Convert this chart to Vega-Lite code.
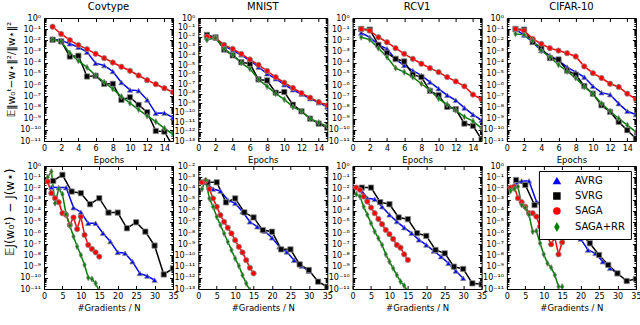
{
"$schema": "https://vega.github.io/schema/vega-lite/v6.json",
"padding": {"left": 3, "top": 1, "right": 0, "bottom": 0},
"bounds": "flush",
"columns": 4,
"spacing": {"row": 25, "column": 25.3},
"resolve": {"legend": {"color": "independent", "shape": "independent"}},
"datasets": {"d": [
{"p":"T1","m":"AVRG","x":1,"y":1.26e-2},{"p":"T1","m":"AVRG","x":2,"y":1e-2},{"p":"T1","m":"AVRG","x":3,"y":5e-3},{"p":"T1","m":"AVRG","x":4,"y":2.5e-3},{"p":"T1","m":"AVRG","x":5,"y":8.9e-4},{"p":"T1","m":"AVRG","x":6,"y":9.1e-5},{"p":"T1","m":"AVRG","x":7,"y":5.6e-5},{"p":"T1","m":"AVRG","x":8,"y":1.66e-5},{"p":"T1","m":"AVRG","x":9,"y":1.7e-6},{"p":"T1","m":"AVRG","x":10,"y":3.7e-7},{"p":"T1","m":"AVRG","x":11,"y":3.2e-7},{"p":"T1","m":"AVRG","x":12,"y":4.8e-8},{"p":"T1","m":"AVRG","x":13,"y":3.0e-9},{"p":"T1","m":"AVRG","x":14,"y":3.2e-9},{"p":"T1","m":"AVRG","x":15,"y":1.23e-9},
{"p":"T1","m":"SVRG","x":1,"y":1.15e-2},{"p":"T1","m":"SVRG","x":2,"y":8.1e-3},{"p":"T1","m":"SVRG","x":3,"y":3.6e-4},{"p":"T1","m":"SVRG","x":4,"y":4.2e-4},{"p":"T1","m":"SVRG","x":5,"y":5.9e-6},{"p":"T1","m":"SVRG","x":6,"y":6.8e-6},{"p":"T1","m":"SVRG","x":7,"y":1.29e-6},{"p":"T1","m":"SVRG","x":8,"y":1.29e-6},{"p":"T1","m":"SVRG","x":9,"y":4.8e-8},{"p":"T1","m":"SVRG","x":10,"y":8.1e-8},{"p":"T1","m":"SVRG","x":11,"y":1.7e-8},{"p":"T1","m":"SVRG","x":12,"y":3.7e-9},{"p":"T1","m":"SVRG","x":13,"y":7.9e-11},{"p":"T1","m":"SVRG","x":14,"y":6.9e-11},{"p":"T1","m":"SVRG","x":15,"y":3.2e-12},
{"p":"T1","m":"SAGA","x":1,"y":1.66e-1},{"p":"T1","m":"SAGA","x":2,"y":3.72e-2},{"p":"T1","m":"SAGA","x":3,"y":1.07e-2},{"p":"T1","m":"SAGA","x":4,"y":3.8e-3},{"p":"T1","m":"SAGA","x":5,"y":1.66e-3},{"p":"T1","m":"SAGA","x":6,"y":6.3e-4},{"p":"T1","m":"SAGA","x":7,"y":2.57e-4},{"p":"T1","m":"SAGA","x":8,"y":1.05e-4},{"p":"T1","m":"SAGA","x":9,"y":4.37e-5},{"p":"T1","m":"SAGA","x":10,"y":1.9e-5},{"p":"T1","m":"SAGA","x":11,"y":7.24e-6},{"p":"T1","m":"SAGA","x":12,"y":2.75e-6},{"p":"T1","m":"SAGA","x":13,"y":1.2e-6},{"p":"T1","m":"SAGA","x":14,"y":5.25e-7},{"p":"T1","m":"SAGA","x":15,"y":2.29e-7},
{"p":"T1","m":"SAGA+RR","x":1,"y":1.15e-2},{"p":"T1","m":"SAGA+RR","x":2,"y":8.1e-3},{"p":"T1","m":"SAGA+RR","x":3,"y":7.2e-4},{"p":"T1","m":"SAGA+RR","x":4,"y":1.48e-4},{"p":"T1","m":"SAGA+RR","x":5,"y":3.8e-5},{"p":"T1","m":"SAGA+RR","x":6,"y":7.2e-6},{"p":"T1","m":"SAGA+RR","x":7,"y":1.82e-6},{"p":"T1","m":"SAGA+RR","x":8,"y":4.6e-7},{"p":"T1","m":"SAGA+RR","x":9,"y":9.3e-8},{"p":"T1","m":"SAGA+RR","x":10,"y":2.4e-8},{"p":"T1","m":"SAGA+RR","x":11,"y":6.5e-9},{"p":"T1","m":"SAGA+RR","x":12,"y":1.74e-9},{"p":"T1","m":"SAGA+RR","x":13,"y":5.4e-10},{"p":"T1","m":"SAGA+RR","x":14,"y":1.35e-10},{"p":"T1","m":"SAGA+RR","x":15,"y":4e-11},

{"p":"T2","m":"AVRG","x":1,"y":9.1e-3},{"p":"T2","m":"AVRG","x":2,"y":7.9e-3},{"p":"T2","m":"AVRG","x":3,"y":1.23e-3},{"p":"T2","m":"AVRG","x":4,"y":3.6e-4},{"p":"T2","m":"AVRG","x":5,"y":1.29e-4},{"p":"T2","m":"AVRG","x":6,"y":3.2e-5},{"p":"T2","m":"AVRG","x":7,"y":6.5e-6},{"p":"T2","m":"AVRG","x":8,"y":1.29e-6},{"p":"T2","m":"AVRG","x":9,"y":3.8e-7},{"p":"T2","m":"AVRG","x":10,"y":8.9e-8},{"p":"T2","m":"AVRG","x":11,"y":2.6e-8},{"p":"T2","m":"AVRG","x":12,"y":9.1e-9},{"p":"T2","m":"AVRG","x":13,"y":3e-9},{"p":"T2","m":"AVRG","x":14,"y":1.12e-9},{"p":"T2","m":"AVRG","x":15,"y":4e-10},
{"p":"T2","m":"SVRG","x":1,"y":1.62e-2},{"p":"T2","m":"SVRG","x":2,"y":9.1e-3},{"p":"T2","m":"SVRG","x":3,"y":4.7e-4},{"p":"T2","m":"SVRG","x":4,"y":1.1e-4},{"p":"T2","m":"SVRG","x":5,"y":2.1e-5},{"p":"T2","m":"SVRG","x":6,"y":1.45e-5},{"p":"T2","m":"SVRG","x":7,"y":3.2e-7},{"p":"T2","m":"SVRG","x":8,"y":2.5e-7},{"p":"T2","m":"SVRG","x":9,"y":1.29e-8},{"p":"T2","m":"SVRG","x":10,"y":1.51e-8},{"p":"T2","m":"SVRG","x":11,"y":6.9e-10},{"p":"T2","m":"SVRG","x":12,"y":1.38e-10},{"p":"T2","m":"SVRG","x":13,"y":2.3e-11},{"p":"T2","m":"SVRG","x":14,"y":6.9e-12},{"p":"T2","m":"SVRG","x":15,"y":2.5e-12},
{"p":"T2","m":"SAGA","x":1,"y":1.1e-2},{"p":"T2","m":"SAGA","x":2,"y":7.9e-3},{"p":"T2","m":"SAGA","x":3,"y":1.45e-3},{"p":"T2","m":"SAGA","x":4,"y":5.5e-4},{"p":"T2","m":"SAGA","x":5,"y":1.62e-4},{"p":"T2","m":"SAGA","x":6,"y":4.1e-5},{"p":"T2","m":"SAGA","x":7,"y":1.12e-5},{"p":"T2","m":"SAGA","x":8,"y":2.5e-6},{"p":"T2","m":"SAGA","x":9,"y":5.6e-7},{"p":"T2","m":"SAGA","x":10,"y":1.45e-7},{"p":"T2","m":"SAGA","x":11,"y":4e-8},{"p":"T2","m":"SAGA","x":12,"y":1.17e-8},{"p":"T2","m":"SAGA","x":13,"y":3.8e-9},{"p":"T2","m":"SAGA","x":14,"y":1.32e-9},{"p":"T2","m":"SAGA","x":15,"y":5.9e-10},
{"p":"T2","m":"SAGA+RR","x":1,"y":4.8e-3},{"p":"T2","m":"SAGA+RR","x":2,"y":7.9e-3},{"p":"T2","m":"SAGA+RR","x":3,"y":5.5e-4},{"p":"T2","m":"SAGA+RR","x":4,"y":1.29e-4},{"p":"T2","m":"SAGA+RR","x":5,"y":1.82e-5},{"p":"T2","m":"SAGA+RR","x":6,"y":4.3e-6},{"p":"T2","m":"SAGA+RR","x":7,"y":3.2e-7},{"p":"T2","m":"SAGA+RR","x":8,"y":5.9e-8},{"p":"T2","m":"SAGA+RR","x":9,"y":1e-8},{"p":"T2","m":"SAGA+RR","x":10,"y":2.5e-9},{"p":"T2","m":"SAGA+RR","x":11,"y":4e-10},{"p":"T2","m":"SAGA+RR","x":12,"y":1.38e-10},{"p":"T2","m":"SAGA+RR","x":13,"y":2.3e-11},{"p":"T2","m":"SAGA+RR","x":14,"y":8.9e-12},{"p":"T2","m":"SAGA+RR","x":15,"y":3.5e-12},

{"p":"T3","m":"AVRG","x":1,"y":4.6e-2},{"p":"T3","m":"AVRG","x":2,"y":1.9e-2},{"p":"T3","m":"AVRG","x":3,"y":4e-3},{"p":"T3","m":"AVRG","x":4,"y":1.74e-3},{"p":"T3","m":"AVRG","x":5,"y":1.95e-4},{"p":"T3","m":"AVRG","x":6,"y":5.8e-5},{"p":"T3","m":"AVRG","x":7,"y":2e-5},{"p":"T3","m":"AVRG","x":8,"y":7.4e-6},{"p":"T3","m":"AVRG","x":9,"y":1.86e-6},{"p":"T3","m":"AVRG","x":10,"y":4.8e-7},{"p":"T3","m":"AVRG","x":11,"y":1.23e-7},{"p":"T3","m":"AVRG","x":12,"y":4.4e-8},{"p":"T3","m":"AVRG","x":13,"y":9.1e-9},{"p":"T3","m":"AVRG","x":14,"y":2.3e-9},{"p":"T3","m":"AVRG","x":15,"y":7.2e-10},
{"p":"T3","m":"SVRG","x":1,"y":1.05e-1},{"p":"T3","m":"SVRG","x":2,"y":9.1e-2},{"p":"T3","m":"SVRG","x":3,"y":4e-3},{"p":"T3","m":"SVRG","x":4,"y":7.6e-4},{"p":"T3","m":"SVRG","x":5,"y":2.24e-4},{"p":"T3","m":"SVRG","x":6,"y":1.29e-4},{"p":"T3","m":"SVRG","x":7,"y":8.5e-6},{"p":"T3","m":"SVRG","x":8,"y":5.2e-6},{"p":"T3","m":"SVRG","x":9,"y":3e-7},{"p":"T3","m":"SVRG","x":10,"y":1.23e-7},{"p":"T3","m":"SVRG","x":11,"y":1.12e-8},{"p":"T3","m":"SVRG","x":12,"y":6.9e-9},{"p":"T3","m":"SVRG","x":13,"y":3.6e-10},{"p":"T3","m":"SVRG","x":14,"y":2.3e-10},{"p":"T3","m":"SVRG","x":15,"y":1.38e-11},
{"p":"T3","m":"SAGA","x":1,"y":1.05e-1},{"p":"T3","m":"SAGA","x":2,"y":7.4e-2},{"p":"T3","m":"SAGA","x":3,"y":1.9e-2},{"p":"T3","m":"SAGA","x":4,"y":6.8e-3},{"p":"T3","m":"SAGA","x":5,"y":2e-3},{"p":"T3","m":"SAGA","x":6,"y":6.3e-4},{"p":"T3","m":"SAGA","x":7,"y":2.24e-4},{"p":"T3","m":"SAGA","x":8,"y":8.1e-5},{"p":"T3","m":"SAGA","x":9,"y":3.3e-5},{"p":"T3","m":"SAGA","x":10,"y":1.45e-5},{"p":"T3","m":"SAGA","x":11,"y":5.2e-6},{"p":"T3","m":"SAGA","x":12,"y":2.14e-6},{"p":"T3","m":"SAGA","x":13,"y":7.8e-7},{"p":"T3","m":"SAGA","x":14,"y":1.41e-7},{"p":"T3","m":"SAGA","x":15,"y":5.4e-8},
{"p":"T3","m":"SAGA+RR","x":1,"y":1.9e-2},{"p":"T3","m":"SAGA+RR","x":2,"y":1.17e-2},{"p":"T3","m":"SAGA+RR","x":3,"y":2e-3},{"p":"T3","m":"SAGA+RR","x":4,"y":3.2e-4},{"p":"T3","m":"SAGA+RR","x":5,"y":3.3e-5},{"p":"T3","m":"SAGA+RR","x":6,"y":1.45e-5},{"p":"T3","m":"SAGA+RR","x":7,"y":5.2e-6},{"p":"T3","m":"SAGA+RR","x":8,"y":1.32e-6},{"p":"T3","m":"SAGA+RR","x":9,"y":3.4e-7},{"p":"T3","m":"SAGA+RR","x":10,"y":6.2e-8},{"p":"T3","m":"SAGA+RR","x":11,"y":1.82e-8},{"p":"T3","m":"SAGA+RR","x":12,"y":5.6e-9},{"p":"T3","m":"SAGA+RR","x":13,"y":1.45e-9},{"p":"T3","m":"SAGA+RR","x":14,"y":5.9e-10},{"p":"T3","m":"SAGA+RR","x":15,"y":1.32e-10},

{"p":"T4","m":"AVRG","x":1,"y":9.1e-2},{"p":"T4","m":"AVRG","x":2,"y":3.1e-2},{"p":"T4","m":"AVRG","x":3,"y":6.8e-3},{"p":"T4","m":"AVRG","x":4,"y":1.23e-3},{"p":"T4","m":"AVRG","x":5,"y":4.5e-4},{"p":"T4","m":"AVRG","x":6,"y":1.58e-4},{"p":"T4","m":"AVRG","x":7,"y":4.1e-5},{"p":"T4","m":"AVRG","x":8,"y":1.45e-5},{"p":"T4","m":"AVRG","x":9,"y":5.2e-6},{"p":"T4","m":"AVRG","x":10,"y":7.8e-7},{"p":"T4","m":"AVRG","x":11,"y":2.1e-7},{"p":"T4","m":"AVRG","x":12,"y":1.41e-7},{"p":"T4","m":"AVRG","x":13,"y":2.2e-8},{"p":"T4","m":"AVRG","x":14,"y":4.6e-9},{"p":"T4","m":"AVRG","x":15,"y":2.3e-9},
{"p":"T4","m":"SVRG","x":1,"y":1.05e-1},{"p":"T4","m":"SVRG","x":2,"y":9.1e-2},{"p":"T4","m":"SVRG","x":3,"y":7.2e-3},{"p":"T4","m":"SVRG","x":4,"y":2e-3},{"p":"T4","m":"SVRG","x":5,"y":2.6e-4},{"p":"T4","m":"SVRG","x":6,"y":1.95e-4},{"p":"T4","m":"SVRG","x":7,"y":2e-5},{"p":"T4","m":"SVRG","x":8,"y":8.5e-6},{"p":"T4","m":"SVRG","x":9,"y":8.3e-7},{"p":"T4","m":"SVRG","x":10,"y":1.7e-7},{"p":"T4","m":"SVRG","x":11,"y":1.58e-8},{"p":"T4","m":"SVRG","x":12,"y":4e-9},{"p":"T4","m":"SVRG","x":13,"y":5.1e-10},{"p":"T4","m":"SVRG","x":14,"y":9.3e-11},{"p":"T4","m":"SVRG","x":15,"y":1.7e-11},
{"p":"T4","m":"SAGA","x":1,"y":1.05e-1},{"p":"T4","m":"SAGA","x":2,"y":7.4e-2},{"p":"T4","m":"SAGA","x":3,"y":1.35e-2},{"p":"T4","m":"SAGA","x":4,"y":4.9e-3},{"p":"T4","m":"SAGA","x":5,"y":2e-3},{"p":"T4","m":"SAGA","x":6,"y":1.23e-3},{"p":"T4","m":"SAGA","x":7,"y":7.1e-4},{"p":"T4","m":"SAGA","x":8,"y":3.6e-4},{"p":"T4","m":"SAGA","x":9,"y":4.7e-5},{"p":"T4","m":"SAGA","x":10,"y":1.17e-5},{"p":"T4","m":"SAGA","x":11,"y":4.3e-6},{"p":"T4","m":"SAGA","x":12,"y":1.32e-6},{"p":"T4","m":"SAGA","x":13,"y":6.8e-7},{"p":"T4","m":"SAGA","x":14,"y":1.7e-7},{"p":"T4","m":"SAGA","x":15,"y":5.4e-8},
{"p":"T4","m":"SAGA+RR","x":1,"y":3.8e-2},{"p":"T4","m":"SAGA+RR","x":2,"y":3.1e-2},{"p":"T4","m":"SAGA+RR","x":3,"y":9.5e-3},{"p":"T4","m":"SAGA+RR","x":4,"y":1.23e-3},{"p":"T4","m":"SAGA+RR","x":5,"y":3.2e-4},{"p":"T4","m":"SAGA+RR","x":6,"y":6.6e-5},{"p":"T4","m":"SAGA+RR","x":7,"y":1.66e-5},{"p":"T4","m":"SAGA+RR","x":8,"y":4.3e-6},{"p":"T4","m":"SAGA+RR","x":9,"y":6.8e-7},{"p":"T4","m":"SAGA+RR","x":10,"y":1.7e-7},{"p":"T4","m":"SAGA+RR","x":11,"y":2.2e-8},{"p":"T4","m":"SAGA+RR","x":12,"y":4.6e-9},{"p":"T4","m":"SAGA+RR","x":13,"y":1.02e-9},{"p":"T4","m":"SAGA+RR","x":14,"y":2.6e-10},{"p":"T4","m":"SAGA+RR","x":15,"y":6.6e-11},

{"p":"B1","m":"AVRG","x":2,"y":1.26e-2},{"p":"B1","m":"AVRG","x":4,"y":1.17e-2},{"p":"B1","m":"AVRG","x":6,"y":1.17e-2},{"p":"B1","m":"AVRG","x":8,"y":1.9e-4},{"p":"B1","m":"AVRG","x":10,"y":7.4e-5},{"p":"B1","m":"AVRG","x":12,"y":7.6e-6},{"p":"B1","m":"AVRG","x":14,"y":7.6e-6},{"p":"B1","m":"AVRG","x":16,"y":9.8e-7},{"p":"B1","m":"AVRG","x":18,"y":1.74e-7},{"p":"B1","m":"AVRG","x":20,"y":1.9e-8},{"p":"B1","m":"AVRG","x":22,"y":1.55e-8},{"p":"B1","m":"AVRG","x":24,"y":2.8e-9},{"p":"B1","m":"AVRG","x":26,"y":2.5e-10},{"p":"B1","m":"AVRG","x":28,"y":1.45e-10},{"p":"B1","m":"AVRG","x":30,"y":6.3e-11},
{"p":"B1","m":"SVRG","x":2.5,"y":4.7e-2},{"p":"B1","m":"SVRG","x":5,"y":1.62e-1},{"p":"B1","m":"SVRG","x":7.5,"y":5.2e-3},{"p":"B1","m":"SVRG","x":10,"y":3.7e-3},{"p":"B1","m":"SVRG","x":12.5,"y":3.8e-4},{"p":"B1","m":"SVRG","x":15,"y":1.32e-3},{"p":"B1","m":"SVRG","x":17.5,"y":6.8e-5},{"p":"B1","m":"SVRG","x":20,"y":6.8e-5},{"p":"B1","m":"SVRG","x":22.5,"y":2.7e-6},{"p":"B1","m":"SVRG","x":25,"y":9.3e-6},{"p":"B1","m":"SVRG","x":27.5,"y":1.35e-6},{"p":"B1","m":"SVRG","x":30,"y":7.6e-8},{"p":"B1","m":"SVRG","x":32.5,"y":2e-10},{"p":"B1","m":"SVRG","x":35,"y":7.1e-10},
{"p":"B1","m":"SAGA","x":1,"y":4.1e-2},{"p":"B1","m":"SAGA","x":2,"y":3.7e-3},{"p":"B1","m":"SAGA","x":3,"y":1.32e-3},{"p":"B1","m":"SAGA","x":4,"y":5.8e-4},{"p":"B1","m":"SAGA","x":5,"y":6e-5},{"p":"B1","m":"SAGA","x":6,"y":4.3e-5},{"p":"B1","m":"SAGA","x":7,"y":5.4e-6},{"p":"B1","m":"SAGA","x":8,"y":2.5e-5},{"p":"B1","m":"SAGA","x":9,"y":2.3e-6},{"p":"B1","m":"SAGA","x":10,"y":3e-5},{"p":"B1","m":"SAGA","x":11,"y":6.9e-7},{"p":"B1","m":"SAGA","x":12,"y":8.7e-8},{"p":"B1","m":"SAGA","x":13,"y":3.8e-8},{"p":"B1","m":"SAGA","x":14,"y":1.9e-8},{"p":"B1","m":"SAGA","x":15,"y":7.9e-9},
{"p":"B1","m":"SAGA+RR","x":1,"y":1e-1},{"p":"B1","m":"SAGA+RR","x":2,"y":3.2e-1},{"p":"B1","m":"SAGA+RR","x":3,"y":4.7e-4},{"p":"B1","m":"SAGA+RR","x":4,"y":9.1e-3},{"p":"B1","m":"SAGA+RR","x":5,"y":3e-3},{"p":"B1","m":"SAGA+RR","x":6,"y":4.9e-5},{"p":"B1","m":"SAGA+RR","x":7,"y":4.7e-6},{"p":"B1","m":"SAGA+RR","x":8,"y":4.9e-7},{"p":"B1","m":"SAGA+RR","x":9,"y":6.2e-8},{"p":"B1","m":"SAGA+RR","x":10,"y":1.1e-8},{"p":"B1","m":"SAGA+RR","x":11,"y":1.41e-9},{"p":"B1","m":"SAGA+RR","x":12,"y":1.02e-10},{"p":"B1","m":"SAGA+RR","x":13,"y":7.9e-11},{"p":"B1","m":"SAGA+RR","x":14,"y":3.2e-11},{"p":"B1","m":"SAGA+RR","x":15,"y":6.6e-12},

{"p":"B2","m":"AVRG","x":2,"y":3.5e-4},{"p":"B2","m":"AVRG","x":4,"y":8.7e-5},{"p":"B2","m":"AVRG","x":6,"y":5.8e-5},{"p":"B2","m":"AVRG","x":8,"y":9.1e-6},{"p":"B2","m":"AVRG","x":10,"y":4.6e-6},{"p":"B2","m":"AVRG","x":12,"y":8.1e-7},{"p":"B2","m":"AVRG","x":14,"y":1.02e-7},{"p":"B2","m":"AVRG","x":16,"y":3.7e-8},{"p":"B2","m":"AVRG","x":18,"y":1.51e-8},{"p":"B2","m":"AVRG","x":20,"y":3.8e-9},{"p":"B2","m":"AVRG","x":22,"y":6e-10},{"p":"B2","m":"AVRG","x":24,"y":2.1e-10},{"p":"B2","m":"AVRG","x":26,"y":3.8e-11},{"p":"B2","m":"AVRG","x":28,"y":1.17e-11},{"p":"B2","m":"AVRG","x":30,"y":4e-12},
{"p":"B2","m":"SVRG","x":2.5,"y":3.5e-4},{"p":"B2","m":"SVRG","x":5,"y":3.5e-4},{"p":"B2","m":"SVRG","x":7.5,"y":5.6e-6},{"p":"B2","m":"SVRG","x":10,"y":1.26e-5},{"p":"B2","m":"SVRG","x":12.5,"y":7.1e-7},{"p":"B2","m":"SVRG","x":15,"y":2.5e-7},{"p":"B2","m":"SVRG","x":17.5,"y":1.86e-8},{"p":"B2","m":"SVRG","x":20,"y":1.32e-8},{"p":"B2","m":"SVRG","x":22.5,"y":3.5e-10},{"p":"B2","m":"SVRG","x":25,"y":3.5e-10},{"p":"B2","m":"SVRG","x":27.5,"y":1.58e-11},{"p":"B2","m":"SVRG","x":30,"y":5e-12},{"p":"B2","m":"SVRG","x":32.5,"y":4.5e-13},{"p":"B2","m":"SVRG","x":35,"y":1.6e-13},
{"p":"B2","m":"SAGA","x":1,"y":3.5e-4},{"p":"B2","m":"SAGA","x":2,"y":4.6e-4},{"p":"B2","m":"SAGA","x":3,"y":8.7e-5},{"p":"B2","m":"SAGA","x":4,"y":1.26e-5},{"p":"B2","m":"SAGA","x":5,"y":2.3e-6},{"p":"B2","m":"SAGA","x":6,"y":4.1e-7},{"p":"B2","m":"SAGA","x":7,"y":1.02e-7},{"p":"B2","m":"SAGA","x":8,"y":3e-8},{"p":"B2","m":"SAGA","x":9,"y":9.3e-9},{"p":"B2","m":"SAGA","x":10,"y":2.3e-9},{"p":"B2","m":"SAGA","x":11,"y":6e-10},{"p":"B2","m":"SAGA","x":12,"y":1.86e-10},{"p":"B2","m":"SAGA","x":13,"y":3.8e-11},{"p":"B2","m":"SAGA","x":14,"y":7.9e-12},{"p":"B2","m":"SAGA","x":15,"y":2.5e-12},
{"p":"B2","m":"SAGA+RR","x":1,"y":8.7e-5},{"p":"B2","m":"SAGA+RR","x":2,"y":5.6e-4},{"p":"B2","m":"SAGA+RR","x":3,"y":1.26e-5},{"p":"B2","m":"SAGA+RR","x":4,"y":2.3e-6},{"p":"B2","m":"SAGA+RR","x":5,"y":2.9e-7},{"p":"B2","m":"SAGA+RR","x":6,"y":5.2e-8},{"p":"B2","m":"SAGA+RR","x":7,"y":9.3e-9},{"p":"B2","m":"SAGA+RR","x":8,"y":1.66e-9},{"p":"B2","m":"SAGA+RR","x":9,"y":3e-10},{"p":"B2","m":"SAGA+RR","x":10,"y":5.4e-11},{"p":"B2","m":"SAGA+RR","x":11,"y":1.17e-11},{"p":"B2","m":"SAGA+RR","x":12,"y":1.74e-12},{"p":"B2","m":"SAGA+RR","x":13,"y":3.2e-13},{"p":"B2","m":"SAGA+RR","x":14,"y":7.9e-14},

{"p":"B3","m":"AVRG","x":2,"y":1.02e-2},{"p":"B3","m":"AVRG","x":4,"y":1.32e-3},{"p":"B3","m":"AVRG","x":6,"y":1.07e-3},{"p":"B3","m":"AVRG","x":8,"y":2.3e-4},{"p":"B3","m":"AVRG","x":10,"y":4.3e-5},{"p":"B3","m":"AVRG","x":12,"y":1.07e-5},{"p":"B3","m":"AVRG","x":14,"y":3.1e-6},{"p":"B3","m":"AVRG","x":16,"y":9.8e-7},{"p":"B3","m":"AVRG","x":18,"y":2.5e-7},{"p":"B3","m":"AVRG","x":20,"y":8.7e-8},{"p":"B3","m":"AVRG","x":22,"y":2.5e-8},{"p":"B3","m":"AVRG","x":24,"y":7.9e-9},{"p":"B3","m":"AVRG","x":26,"y":2e-9},{"p":"B3","m":"AVRG","x":28,"y":4.1e-10},{"p":"B3","m":"AVRG","x":30,"y":9.1e-11},
{"p":"B3","m":"SVRG","x":2.5,"y":1.17e-2},{"p":"B3","m":"SVRG","x":5,"y":1.17e-2},{"p":"B3","m":"SVRG","x":7.5,"y":5.8e-4},{"p":"B3","m":"SVRG","x":10,"y":3.8e-4},{"p":"B3","m":"SVRG","x":12.5,"y":2.5e-5},{"p":"B3","m":"SVRG","x":15,"y":1.74e-5},{"p":"B3","m":"SVRG","x":17.5,"y":9.8e-7},{"p":"B3","m":"SVRG","x":20,"y":5.6e-7},{"p":"B3","m":"SVRG","x":22.5,"y":3.1e-8},{"p":"B3","m":"SVRG","x":25,"y":1.55e-8},{"p":"B3","m":"SVRG","x":27.5,"y":1e-9},{"p":"B3","m":"SVRG","x":30,"y":6.2e-10},{"p":"B3","m":"SVRG","x":32.5,"y":3.2e-11},{"p":"B3","m":"SVRG","x":35,"y":2.6e-11},
{"p":"B3","m":"SAGA","x":1,"y":1.17e-2},{"p":"B3","m":"SAGA","x":2,"y":7.4e-3},{"p":"B3","m":"SAGA","x":3,"y":1.86e-3},{"p":"B3","m":"SAGA","x":4,"y":6.6e-4},{"p":"B3","m":"SAGA","x":5,"y":1.9e-4},{"p":"B3","m":"SAGA","x":6,"y":6e-5},{"p":"B3","m":"SAGA","x":7,"y":1.86e-5},{"p":"B3","m":"SAGA","x":8,"y":6.2e-6},{"p":"B3","m":"SAGA","x":9,"y":1.9e-6},{"p":"B3","m":"SAGA","x":10,"y":7.9e-7},{"p":"B3","m":"SAGA","x":11,"y":3e-7},{"p":"B3","m":"SAGA","x":12,"y":8.7e-8},{"p":"B3","m":"SAGA","x":13,"y":5e-8},{"p":"B3","m":"SAGA","x":14,"y":1.26e-8},{"p":"B3","m":"SAGA","x":15,"y":4e-9},
{"p":"B3","m":"SAGA+RR","x":1,"y":3e-3},{"p":"B3","m":"SAGA+RR","x":2,"y":1.86e-3},{"p":"B3","m":"SAGA+RR","x":3,"y":2.3e-4},{"p":"B3","m":"SAGA+RR","x":4,"y":4.3e-5},{"p":"B3","m":"SAGA+RR","x":5,"y":7.6e-6},{"p":"B3","m":"SAGA+RR","x":6,"y":1.35e-6},{"p":"B3","m":"SAGA+RR","x":7,"y":3.5e-7},{"p":"B3","m":"SAGA+RR","x":8,"y":8.7e-8},{"p":"B3","m":"SAGA+RR","x":9,"y":1.26e-8},{"p":"B3","m":"SAGA+RR","x":10,"y":2.8e-9},{"p":"B3","m":"SAGA+RR","x":11,"y":7.1e-10},{"p":"B3","m":"SAGA+RR","x":12,"y":1.78e-10},{"p":"B3","m":"SAGA+RR","x":13,"y":4.6e-11},{"p":"B3","m":"SAGA+RR","x":14,"y":2e-11},{"p":"B3","m":"SAGA+RR","x":15,"y":5.8e-12},

{"p":"B4","m":"AVRG","x":2,"y":2e-2},{"p":"B4","m":"AVRG","x":4,"y":4.6e-2},{"p":"B4","m":"AVRG","x":6,"y":4.6e-2},{"p":"B4","m":"AVRG","x":8,"y":6.6e-4},{"p":"B4","m":"AVRG","x":10,"y":1.66e-4},{"p":"B4","m":"AVRG","x":12,"y":6e-5},{"p":"B4","m":"AVRG","x":14,"y":2.1e-5},{"p":"B4","m":"AVRG","x":16,"y":5.4e-6},{"p":"B4","m":"AVRG","x":18,"y":1.55e-6},{"p":"B4","m":"AVRG","x":20,"y":3e-7},{"p":"B4","m":"AVRG","x":22,"y":3.1e-8},{"p":"B4","m":"AVRG","x":24,"y":1.55e-8},{"p":"B4","m":"AVRG","x":26,"y":2.8e-9},{"p":"B4","m":"AVRG","x":28,"y":7.1e-10},{"p":"B4","m":"AVRG","x":30,"y":2.5e-10},
{"p":"B4","m":"SVRG","x":2.5,"y":5.6e-2},{"p":"B4","m":"SVRG","x":5,"y":2e-2},{"p":"B4","m":"SVRG","x":7.5,"y":3.2e-4},{"p":"B4","m":"SVRG","x":10,"y":1e-3},{"p":"B4","m":"SVRG","x":12.5,"y":1.66e-4},{"p":"B4","m":"SVRG","x":15,"y":2.1e-5},{"p":"B4","m":"SVRG","x":17.5,"y":3.8e-6},{"p":"B4","m":"SVRG","x":20,"y":9.8e-7},{"p":"B4","m":"SVRG","x":22.5,"y":1.23e-7},{"p":"B4","m":"SVRG","x":25,"y":1.1e-8},{"p":"B4","m":"SVRG","x":27.5,"y":1.41e-9},{"p":"B4","m":"SVRG","x":30,"y":2.5e-10},{"p":"B4","m":"SVRG","x":32.5,"y":5.2e-11},{"p":"B4","m":"SVRG","x":35,"y":7.9e-11},
{"p":"B4","m":"SAGA","x":1,"y":1.17e-2},{"p":"B4","m":"SAGA","x":2,"y":1.45e-2},{"p":"B4","m":"SAGA","x":3,"y":1.32e-3},{"p":"B4","m":"SAGA","x":4,"y":5.8e-4},{"p":"B4","m":"SAGA","x":5,"y":2.3e-4},{"p":"B4","m":"SAGA","x":6,"y":6e-5},{"p":"B4","m":"SAGA","x":7,"y":6e-5},{"p":"B4","m":"SAGA","x":8,"y":3e-5},{"p":"B4","m":"SAGA","x":9,"y":3.8e-6},{"p":"B4","m":"SAGA","x":10,"y":9.8e-7},{"p":"B4","m":"SAGA","x":11,"y":4.9e-7},{"p":"B4","m":"SAGA","x":12,"y":1e-7},{"p":"B4","m":"SAGA","x":13,"y":4e-7},{"p":"B4","m":"SAGA","x":14,"y":1.26e-8},{"p":"B4","m":"SAGA","x":15,"y":1.51e-7},
{"p":"B4","m":"SAGA+RR","x":1,"y":6e-3},{"p":"B4","m":"SAGA+RR","x":2,"y":9.1e-3},{"p":"B4","m":"SAGA+RR","x":3,"y":1.45e-2},{"p":"B4","m":"SAGA+RR","x":4,"y":3.3e-4},{"p":"B4","m":"SAGA+RR","x":5,"y":1.9e-4},{"p":"B4","m":"SAGA+RR","x":6,"y":4.3e-5},{"p":"B4","m":"SAGA+RR","x":7,"y":1.35e-6},{"p":"B4","m":"SAGA+RR","x":8,"y":1.55e-6},{"p":"B4","m":"SAGA+RR","x":9,"y":1.23e-7},{"p":"B4","m":"SAGA+RR","x":10,"y":1.26e-8},{"p":"B4","m":"SAGA+RR","x":11,"y":2e-9},{"p":"B4","m":"SAGA+RR","x":12,"y":8.1e-10},{"p":"B4","m":"SAGA+RR","x":13,"y":1.78e-10},{"p":"B4","m":"SAGA+RR","x":14,"y":1.62e-11},{"p":"B4","m":"SAGA+RR","x":15,"y":1.62e-11}
]},
"concat": [
{"title": "Covtype", "width": 129, "height": 123, "data": {"name": "d"}, "transform": [{"filter": "datum.p == 'T1'"}],
 "encoding": {
  "x": {"field": "x", "type": "quantitative", "scale": {"domain": [0, 15], "nice": false}, "axis": {"orient": "bottom", "values": [0,2,4,6,8,10,12,14], "title": "Epochs"}},
  "y": {"field": "y", "type": "quantitative", "scale": {"type": "log", "domain": [1e-11, 1], "nice": false}, "axis": {"orient": "left", "tickCount": 40, "title": "𝔼‖w₀ᵗ−w⋆‖²/‖w⋆‖²", "titleFontSize": 10.5, "titleY": 51, "tickSize": {"condition": {"test": "abs(log(datum.value)/LN10 - round(log(datum.value)/LN10)) > 0.01", "value": -2}, "value": -3.5}, "labelExpr": "abs(log(datum.value)/LN10 - round(log(datum.value)/LN10)) > 0.01 ? '' : '10' + (datum.value < 0.5 ? '⁻' : '') + (datum.value < 5e-10 ? '¹' : '') + substring('⁰¹²³⁴⁵⁶⁷⁸⁹', abs(round(log(datum.value) / LN10)) % 10, abs(round(log(datum.value) / LN10)) % 10 + 1)"}},
  "color": {"field": "m", "type": "nominal", "scale": {"domain": ["AVRG","SVRG","SAGA","SAGA+RR"], "range": ["#0000ff","#000000","#ff0000","#008000"]}, "legend": null}
 },
 "layer": [
  {"mark": {"type": "line", "strokeWidth": 1.5, "clip": true}},
  {"mark": {"type": "point", "filled": true, "size": 28, "stroke": "#888888", "strokeWidth": 0.8, "opacity": 1, "clip": true}, "encoding": {
    "shape": {"field": "m", "type": "nominal", "scale": {"domain": ["AVRG","SVRG","SAGA","SAGA+RR"], "range": ["triangle-up","square","circle","M0,-1.15L0.65,0L0,1.15L-0.65,0Z"]}, "legend": null},
    "x": {"field": "x", "type": "quantitative", "scale": {"domain": [0, 15], "nice": false}, "axis": {"orient": "top", "labels": false, "title": null, "values": [0,2,4,6,8,10,12,14]}},
    "y": {"field": "y", "type": "quantitative", "scale": {"type": "log", "domain": [1e-11, 1], "nice": false}, "axis": {"orient": "right", "labels": false, "title": null, "tickCount": 40, "tickSize": {"condition": {"test": "abs(log(datum.value)/LN10 - round(log(datum.value)/LN10)) > 0.01", "value": -2}, "value": -3.5}}}}}
 ]},
{"title": "MNIST", "width": 129, "height": 123, "data": {"name": "d"}, "transform": [{"filter": "datum.p == 'T2'"}],
 "encoding": {
  "x": {"field": "x", "type": "quantitative", "scale": {"domain": [0, 15], "nice": false}, "axis": {"orient": "bottom", "values": [0,2,4,6,8,10,12,14], "title": "Epochs"}},
  "y": {"field": "y", "type": "quantitative", "scale": {"type": "log", "domain": [1e-13, 1], "nice": false}, "axis": {"orient": "left", "tickCount": 40, "title": null, "tickSize": {"condition": {"test": "abs(log(datum.value)/LN10 - round(log(datum.value)/LN10)) > 0.01", "value": -2}, "value": -3.5}, "labelExpr": "abs(log(datum.value)/LN10 - round(log(datum.value)/LN10)) > 0.01 ? '' : '10' + (datum.value < 0.5 ? '⁻' : '') + (datum.value < 5e-10 ? '¹' : '') + substring('⁰¹²³⁴⁵⁶⁷⁸⁹', abs(round(log(datum.value) / LN10)) % 10, abs(round(log(datum.value) / LN10)) % 10 + 1)"}},
  "color": {"field": "m", "type": "nominal", "scale": {"domain": ["AVRG","SVRG","SAGA","SAGA+RR"], "range": ["#0000ff","#000000","#ff0000","#008000"]}, "legend": null}
 },
 "layer": [
  {"mark": {"type": "line", "strokeWidth": 1.5, "clip": true}},
  {"mark": {"type": "point", "filled": true, "size": 28, "stroke": "#888888", "strokeWidth": 0.8, "opacity": 1, "clip": true}, "encoding": {
    "shape": {"field": "m", "type": "nominal", "scale": {"domain": ["AVRG","SVRG","SAGA","SAGA+RR"], "range": ["triangle-up","square","circle","M0,-1.15L0.65,0L0,1.15L-0.65,0Z"]}, "legend": null},
    "x": {"field": "x", "type": "quantitative", "scale": {"domain": [0, 15], "nice": false}, "axis": {"orient": "top", "labels": false, "title": null, "values": [0,2,4,6,8,10,12,14]}},
    "y": {"field": "y", "type": "quantitative", "scale": {"type": "log", "domain": [1e-13, 1], "nice": false}, "axis": {"orient": "right", "labels": false, "title": null, "tickCount": 40, "tickSize": {"condition": {"test": "abs(log(datum.value)/LN10 - round(log(datum.value)/LN10)) > 0.01", "value": -2}, "value": -3.5}}}}}
 ]},
{"title": "RCV1", "width": 129, "height": 123, "data": {"name": "d"}, "transform": [{"filter": "datum.p == 'T3'"}],
 "encoding": {
  "x": {"field": "x", "type": "quantitative", "scale": {"domain": [0, 15], "nice": false}, "axis": {"orient": "bottom", "values": [0,2,4,6,8,10,12,14], "title": "Epochs"}},
  "y": {"field": "y", "type": "quantitative", "scale": {"type": "log", "domain": [1e-11, 1], "nice": false}, "axis": {"orient": "left", "tickCount": 40, "title": null, "tickSize": {"condition": {"test": "abs(log(datum.value)/LN10 - round(log(datum.value)/LN10)) > 0.01", "value": -2}, "value": -3.5}, "labelExpr": "abs(log(datum.value)/LN10 - round(log(datum.value)/LN10)) > 0.01 ? '' : '10' + (datum.value < 0.5 ? '⁻' : '') + (datum.value < 5e-10 ? '¹' : '') + substring('⁰¹²³⁴⁵⁶⁷⁸⁹', abs(round(log(datum.value) / LN10)) % 10, abs(round(log(datum.value) / LN10)) % 10 + 1)"}},
  "color": {"field": "m", "type": "nominal", "scale": {"domain": ["AVRG","SVRG","SAGA","SAGA+RR"], "range": ["#0000ff","#000000","#ff0000","#008000"]}, "legend": null}
 },
 "layer": [
  {"mark": {"type": "line", "strokeWidth": 1.5, "clip": true}},
  {"mark": {"type": "point", "filled": true, "size": 28, "stroke": "#888888", "strokeWidth": 0.8, "opacity": 1, "clip": true}, "encoding": {
    "shape": {"field": "m", "type": "nominal", "scale": {"domain": ["AVRG","SVRG","SAGA","SAGA+RR"], "range": ["triangle-up","square","circle","M0,-1.15L0.65,0L0,1.15L-0.65,0Z"]}, "legend": null},
    "x": {"field": "x", "type": "quantitative", "scale": {"domain": [0, 15], "nice": false}, "axis": {"orient": "top", "labels": false, "title": null, "values": [0,2,4,6,8,10,12,14]}},
    "y": {"field": "y", "type": "quantitative", "scale": {"type": "log", "domain": [1e-11, 1], "nice": false}, "axis": {"orient": "right", "labels": false, "title": null, "tickCount": 40, "tickSize": {"condition": {"test": "abs(log(datum.value)/LN10 - round(log(datum.value)/LN10)) > 0.01", "value": -2}, "value": -3.5}}}}}
 ]},
{"title": "CIFAR-10", "width": 129, "height": 123, "data": {"name": "d"}, "transform": [{"filter": "datum.p == 'T4'"}],
 "encoding": {
  "x": {"field": "x", "type": "quantitative", "scale": {"domain": [0, 15], "nice": false}, "axis": {"orient": "bottom", "values": [0,2,4,6,8,10,12,14], "title": "Epochs"}},
  "y": {"field": "y", "type": "quantitative", "scale": {"type": "log", "domain": [1e-11, 1], "nice": false}, "axis": {"orient": "left", "tickCount": 40, "title": null, "tickSize": {"condition": {"test": "abs(log(datum.value)/LN10 - round(log(datum.value)/LN10)) > 0.01", "value": -2}, "value": -3.5}, "labelExpr": "abs(log(datum.value)/LN10 - round(log(datum.value)/LN10)) > 0.01 ? '' : '10' + (datum.value < 0.5 ? '⁻' : '') + (datum.value < 5e-10 ? '¹' : '') + substring('⁰¹²³⁴⁵⁶⁷⁸⁹', abs(round(log(datum.value) / LN10)) % 10, abs(round(log(datum.value) / LN10)) % 10 + 1)"}},
  "color": {"field": "m", "type": "nominal", "scale": {"domain": ["AVRG","SVRG","SAGA","SAGA+RR"], "range": ["#0000ff","#000000","#ff0000","#008000"]}, "legend": null}
 },
 "layer": [
  {"mark": {"type": "line", "strokeWidth": 1.5, "clip": true}},
  {"mark": {"type": "point", "filled": true, "size": 28, "stroke": "#888888", "strokeWidth": 0.8, "opacity": 1, "clip": true}, "encoding": {
    "shape": {"field": "m", "type": "nominal", "scale": {"domain": ["AVRG","SVRG","SAGA","SAGA+RR"], "range": ["triangle-up","square","circle","M0,-1.15L0.65,0L0,1.15L-0.65,0Z"]}, "legend": null},
    "x": {"field": "x", "type": "quantitative", "scale": {"domain": [0, 15], "nice": false}, "axis": {"orient": "top", "labels": false, "title": null, "values": [0,2,4,6,8,10,12,14]}},
    "y": {"field": "y", "type": "quantitative", "scale": {"type": "log", "domain": [1e-11, 1], "nice": false}, "axis": {"orient": "right", "labels": false, "title": null, "tickCount": 40, "tickSize": {"condition": {"test": "abs(log(datum.value)/LN10 - round(log(datum.value)/LN10)) > 0.01", "value": -2}, "value": -3.5}}}}}
 ]},
{"width": 129, "height": 123, "data": {"name": "d"}, "transform": [{"filter": "datum.p == 'B1'"}],
 "encoding": {
  "x": {"field": "x", "type": "quantitative", "scale": {"domain": [0, 35], "nice": false}, "axis": {"orient": "bottom", "values": [0,5,10,15,20,25,30,35], "title": "#Gradients / N"}},
  "y": {"field": "y", "type": "quantitative", "scale": {"type": "log", "domain": [1e-11, 1], "nice": false}, "axis": {"orient": "left", "tickCount": 40, "title": "𝔼J(w₀ᵗ) − J(w⋆)", "titleFontSize": 12, "titleY": 46, "tickSize": {"condition": {"test": "abs(log(datum.value)/LN10 - round(log(datum.value)/LN10)) > 0.01", "value": -2}, "value": -3.5}, "labelExpr": "abs(log(datum.value)/LN10 - round(log(datum.value)/LN10)) > 0.01 ? '' : '10' + (datum.value < 0.5 ? '⁻' : '') + (datum.value < 5e-10 ? '¹' : '') + substring('⁰¹²³⁴⁵⁶⁷⁸⁹', abs(round(log(datum.value) / LN10)) % 10, abs(round(log(datum.value) / LN10)) % 10 + 1)"}},
  "color": {"field": "m", "type": "nominal", "scale": {"domain": ["AVRG","SVRG","SAGA","SAGA+RR"], "range": ["#0000ff","#000000","#ff0000","#008000"]}, "legend": null}
 },
 "layer": [
  {"mark": {"type": "line", "strokeWidth": 1.5, "clip": true}},
  {"mark": {"type": "point", "filled": true, "size": 28, "stroke": "#888888", "strokeWidth": 0.8, "opacity": 1, "clip": true}, "encoding": {
    "shape": {"field": "m", "type": "nominal", "scale": {"domain": ["AVRG","SVRG","SAGA","SAGA+RR"], "range": ["triangle-up","square","circle","M0,-1.15L0.65,0L0,1.15L-0.65,0Z"]}, "legend": null},
    "x": {"field": "x", "type": "quantitative", "scale": {"domain": [0, 35], "nice": false}, "axis": {"orient": "top", "labels": false, "title": null, "values": [0,5,10,15,20,25,30,35]}},
    "y": {"field": "y", "type": "quantitative", "scale": {"type": "log", "domain": [1e-11, 1], "nice": false}, "axis": {"orient": "right", "labels": false, "title": null, "tickCount": 40, "tickSize": {"condition": {"test": "abs(log(datum.value)/LN10 - round(log(datum.value)/LN10)) > 0.01", "value": -2}, "value": -3.5}}}}}
 ]},
{"width": 129, "height": 123, "data": {"name": "d"}, "transform": [{"filter": "datum.p == 'B2'"}],
 "encoding": {
  "x": {"field": "x", "type": "quantitative", "scale": {"domain": [0, 35], "nice": false}, "axis": {"orient": "bottom", "values": [0,5,10,15,20,25,30,35], "title": "#Gradients / N"}},
  "y": {"field": "y", "type": "quantitative", "scale": {"type": "log", "domain": [1e-13, 1e-2], "nice": false}, "axis": {"orient": "left", "tickCount": 40, "title": null, "tickSize": {"condition": {"test": "abs(log(datum.value)/LN10 - round(log(datum.value)/LN10)) > 0.01", "value": -2}, "value": -3.5}, "labelExpr": "abs(log(datum.value)/LN10 - round(log(datum.value)/LN10)) > 0.01 ? '' : '10' + (datum.value < 0.5 ? '⁻' : '') + (datum.value < 5e-10 ? '¹' : '') + substring('⁰¹²³⁴⁵⁶⁷⁸⁹', abs(round(log(datum.value) / LN10)) % 10, abs(round(log(datum.value) / LN10)) % 10 + 1)"}},
  "color": {"field": "m", "type": "nominal", "scale": {"domain": ["AVRG","SVRG","SAGA","SAGA+RR"], "range": ["#0000ff","#000000","#ff0000","#008000"]}, "legend": null}
 },
 "layer": [
  {"mark": {"type": "line", "strokeWidth": 1.5, "clip": true}},
  {"mark": {"type": "point", "filled": true, "size": 28, "stroke": "#888888", "strokeWidth": 0.8, "opacity": 1, "clip": true}, "encoding": {
    "shape": {"field": "m", "type": "nominal", "scale": {"domain": ["AVRG","SVRG","SAGA","SAGA+RR"], "range": ["triangle-up","square","circle","M0,-1.15L0.65,0L0,1.15L-0.65,0Z"]}, "legend": null},
    "x": {"field": "x", "type": "quantitative", "scale": {"domain": [0, 35], "nice": false}, "axis": {"orient": "top", "labels": false, "title": null, "values": [0,5,10,15,20,25,30,35]}},
    "y": {"field": "y", "type": "quantitative", "scale": {"type": "log", "domain": [1e-13, 1e-2], "nice": false}, "axis": {"orient": "right", "labels": false, "title": null, "tickCount": 40, "tickSize": {"condition": {"test": "abs(log(datum.value)/LN10 - round(log(datum.value)/LN10)) > 0.01", "value": -2}, "value": -3.5}}}}}
 ]},
{"width": 129, "height": 123, "data": {"name": "d"}, "transform": [{"filter": "datum.p == 'B3'"}],
 "encoding": {
  "x": {"field": "x", "type": "quantitative", "scale": {"domain": [0, 35], "nice": false}, "axis": {"orient": "bottom", "values": [0,5,10,15,20,25,30,35], "title": "#Gradients / N"}},
  "y": {"field": "y", "type": "quantitative", "scale": {"type": "log", "domain": [1e-11, 1], "nice": false}, "axis": {"orient": "left", "tickCount": 40, "title": null, "tickSize": {"condition": {"test": "abs(log(datum.value)/LN10 - round(log(datum.value)/LN10)) > 0.01", "value": -2}, "value": -3.5}, "labelExpr": "abs(log(datum.value)/LN10 - round(log(datum.value)/LN10)) > 0.01 ? '' : '10' + (datum.value < 0.5 ? '⁻' : '') + (datum.value < 5e-10 ? '¹' : '') + substring('⁰¹²³⁴⁵⁶⁷⁸⁹', abs(round(log(datum.value) / LN10)) % 10, abs(round(log(datum.value) / LN10)) % 10 + 1)"}},
  "color": {"field": "m", "type": "nominal", "scale": {"domain": ["AVRG","SVRG","SAGA","SAGA+RR"], "range": ["#0000ff","#000000","#ff0000","#008000"]}, "legend": null}
 },
 "layer": [
  {"mark": {"type": "line", "strokeWidth": 1.5, "clip": true}},
  {"mark": {"type": "point", "filled": true, "size": 28, "stroke": "#888888", "strokeWidth": 0.8, "opacity": 1, "clip": true}, "encoding": {
    "shape": {"field": "m", "type": "nominal", "scale": {"domain": ["AVRG","SVRG","SAGA","SAGA+RR"], "range": ["triangle-up","square","circle","M0,-1.15L0.65,0L0,1.15L-0.65,0Z"]}, "legend": null},
    "x": {"field": "x", "type": "quantitative", "scale": {"domain": [0, 35], "nice": false}, "axis": {"orient": "top", "labels": false, "title": null, "values": [0,5,10,15,20,25,30,35]}},
    "y": {"field": "y", "type": "quantitative", "scale": {"type": "log", "domain": [1e-11, 1], "nice": false}, "axis": {"orient": "right", "labels": false, "title": null, "tickCount": 40, "tickSize": {"condition": {"test": "abs(log(datum.value)/LN10 - round(log(datum.value)/LN10)) > 0.01", "value": -2}, "value": -3.5}}}}}
 ]},
{"width": 129, "height": 123, "data": {"name": "d"}, "transform": [{"filter": "datum.p == 'B4'"}],
 "encoding": {
  "x": {"field": "x", "type": "quantitative", "scale": {"domain": [0, 35], "nice": false}, "axis": {"orient": "bottom", "values": [0,5,10,15,20,25,30,35], "title": "#Gradients / N"}},
  "y": {"field": "y", "type": "quantitative", "scale": {"type": "log", "domain": [1e-11, 1], "nice": false}, "axis": {"orient": "left", "tickCount": 40, "title": null, "tickSize": {"condition": {"test": "abs(log(datum.value)/LN10 - round(log(datum.value)/LN10)) > 0.01", "value": -2}, "value": -3.5}, "labelExpr": "abs(log(datum.value)/LN10 - round(log(datum.value)/LN10)) > 0.01 ? '' : '10' + (datum.value < 0.5 ? '⁻' : '') + (datum.value < 5e-10 ? '¹' : '') + substring('⁰¹²³⁴⁵⁶⁷⁸⁹', abs(round(log(datum.value) / LN10)) % 10, abs(round(log(datum.value) / LN10)) % 10 + 1)"}},
  "color": {"field": "m", "type": "nominal", "scale": {"domain": ["AVRG","SVRG","SAGA","SAGA+RR"], "range": ["#0000ff","#000000","#ff0000","#008000"]},
    "legend": {"orient": "top-right", "title": null, "offset": 5, "strokeColor": "black", "fillColor": "white", "padding": 5, "labelFontSize": 10, "labelFont": "DejaVu Sans", "labelColor": "black", "symbolSize": 36, "rowPadding": 3, "symbolOffset": 8, "labelOffset": 13, "cornerRadius": 0, "symbolOpacity": 1}}
 },
 "layer": [
  {"mark": {"type": "line", "strokeWidth": 1.5, "clip": true}},
  {"mark": {"type": "point", "filled": true, "size": 28, "stroke": "#888888", "strokeWidth": 0.8, "opacity": 1, "clip": true}, "encoding": {
    "shape": {"field": "m", "type": "nominal", "scale": {"domain": ["AVRG","SVRG","SAGA","SAGA+RR"], "range": ["triangle-up","square","circle","M0,-1.15L0.65,0L0,1.15L-0.65,0Z"]},
      "legend": {"orient": "top-right", "title": null, "offset": 5, "strokeColor": "black", "fillColor": "white", "padding": 5, "labelFontSize": 10, "labelFont": "DejaVu Sans", "labelColor": "black", "symbolSize": 36, "rowPadding": 3, "symbolOffset": 8, "labelOffset": 13, "cornerRadius": 0, "symbolOpacity": 1}},
    "x": {"field": "x", "type": "quantitative", "scale": {"domain": [0, 35], "nice": false}, "axis": {"orient": "top", "labels": false, "title": null, "values": [0,5,10,15,20,25,30,35]}},
    "y": {"field": "y", "type": "quantitative", "scale": {"type": "log", "domain": [1e-11, 1], "nice": false}, "axis": {"orient": "right", "labels": false, "title": null, "tickCount": 40, "tickSize": {"condition": {"test": "abs(log(datum.value)/LN10 - round(log(datum.value)/LN10)) > 0.01", "value": -2}, "value": -3.5}}}}}
 ]}
],
"config": {
 "font": "DejaVu Sans",
 "view": {"stroke": "black", "strokeWidth": 1},
 "axis": {"grid": false, "domain": false, "labelFont": "DejaVu Sans", "labelFontSize": 8, "labelColor": "black", "tickColor": "black", "tickSize": -3.5, "labelPadding": 7, "titleFont": "DejaVu Sans", "titleFontWeight": "normal", "titleColor": "black", "titleFontSize": 8.5, "labelOverlap": false, "labelFlush": false},
 "axisY": {"titlePadding": 3},
 "axisX": {"titlePadding": 3},
 "title": {"fontSize": 10, "fontWeight": "normal", "font": "DejaVu Sans", "offset": 2}
}
}
